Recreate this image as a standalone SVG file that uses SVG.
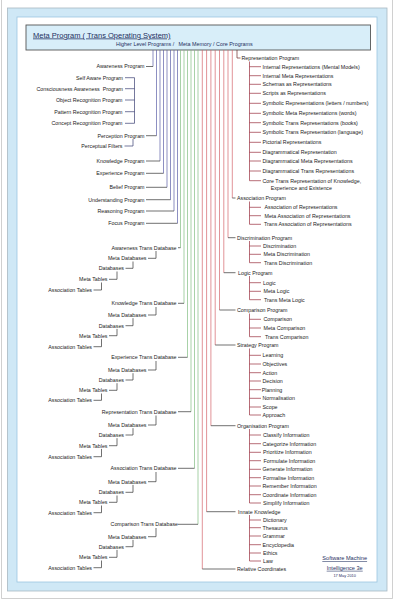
<svg xmlns="http://www.w3.org/2000/svg" width="394" height="600" viewBox="0 0 394 600">
<style>
text{font-family:"Liberation Sans",Arial,sans-serif;font-size:5.3px;fill:#222}
.e{text-anchor:end}
.hd{fill:#1f2f5f;text-decoration:underline}
path{fill:none;stroke-width:0.7}
.b{stroke:#5b5fa8}
.g{stroke:#82bd82}
.r{stroke:#d4646c}
.k{stroke:#333}
.kb{stroke:#3b3f73}
.kr{stroke:#9a2e3e}
</style>
<rect x="0" y="0" width="394" height="600" fill="#fff"/>
<path d="M1.5 0 V598.5 H392.5 V0" stroke="#bbb" stroke-width="0.8"/>
<rect x="7.5" y="8" width="379.5" height="583" fill="#cfe8f6" stroke="#a9b8c2" stroke-width="0.8"/>
<rect x="17" y="17" width="360" height="565" fill="#fff" stroke="#9cc6e0" stroke-width="0.8"/>
<g id="header">
<rect x="26" y="25" width="344.5" height="25" fill="#d8eef9" stroke="#555" stroke-width="0.9"/>
<text x="33" y="37.5" class="hd" style="font-size:7.5px">Meta Program ( Trans Operating System)</text>
<text x="116" y="45.6" style="font-size:5.4px;fill:#1f2f5f" xml:space="preserve">Higher Level Programs /   Meta Memory / Core Programs</text>
</g>
<g id="connectors">
<!-- blue buses -->
<path class="b" d="M153 50 V66.5"/><path class="k" d="M146 66.5 H153"/>
<path class="b" d="M156.5 50 V135.7"/><path class="k" d="M146 135.7 H156.5"/>
<path class="b" d="M160 50 V161"/><path class="k" d="M146 161 H160"/>
<path class="b" d="M163.5 50 V173.3"/><path class="k" d="M146 173.3 H163.5"/>
<path class="b" d="M167 50 V187.3"/><path class="k" d="M146 187.3 H167"/>
<path class="b" d="M170.5 50 V199.7"/><path class="k" d="M146 199.7 H170.5"/>
<path class="b" d="M174 50 V211"/><path class="k" d="M146 211 H174"/>
<path class="b" d="M177.5 50 V223.3"/><path class="k" d="M146 223.3 H177.5"/>
<!-- awareness sub bracket -->
<path class="kb" d="M134.5 77.7 V123.3 M125 77.7 H134.5 M125 88.7 H134.5 M125 100 H134.5 M125 111.7 H134.5 M125 123.3 H134.5"/>
<path class="kb" d="M124.5 146 H133 V139"/>
<!-- green buses -->
<path class="g" d="M180.5 50 V247.7"/><path class="k" d="M178 247.7 H180.5"/>
<path class="g" d="M184 50 V303.3"/><path class="k" d="M178 303.3 H184"/>
<path class="g" d="M187.5 50 V357.3"/><path class="k" d="M178 357.3 H187.5"/>
<path class="g" d="M191 50 V411.7"/><path class="k" d="M178 411.7 H191"/>
<path class="g" d="M194.5 50 V468.3"/><path class="k" d="M178 468.3 H194.5"/>
<path class="g" d="M198 50 V524.3"/><path class="k" d="M178 524.3 H198"/>
<!-- database staircases -->
<path class="k" d="M148 258.3 H156 V251 M125.5 268.3 H133 V261.5 M109 279.3 H117 V271.5 M93.5 290 H101.5 V282.5"/>
<path class="k" d="M148 315 H156 V307 M125.5 325.7 H133 V318.2 M109 335.7 H117 V328.9 M93.5 346.7 H101.5 V338.9"/>
<path class="k" d="M148 370 H156 V361 M125.5 380 H133 V373.2 M109 390.3 H117 V383.2 M93.5 400.3 H101.5 V393.5"/>
<path class="k" d="M148 425 H156 V415.5 M125.5 435 H133 V428.2 M109 445.7 H117 V438.2 M93.5 456.7 H101.5 V448.9"/>
<path class="k" d="M148 481.7 H156 V472 M125.5 492.3 H133 V484.9 M109 502.3 H117 V495.5 M93.5 512.7 H101.5 V505.5"/>
<path class="k" d="M148 536.7 H156 V528 M125.5 546.7 H133 V539.9 M109 557.3 H117 V549.9 M93.5 567.7 H101.5 V560.5"/>
<!-- red buses -->
<path class="r" d="M202.3 50 V569"/><path class="k" d="M202.3 569 H235.5"/>
<path class="r" d="M206.6 50 V511.7"/><path class="k" d="M206.6 511.7 H235.5"/>
<path class="r" d="M210.9 50 V425.7"/><path class="k" d="M210.9 425.7 H235.5"/>
<path class="r" d="M215.2 50 V345"/><path class="k" d="M215.2 345 H235.5"/>
<path class="r" d="M219.5 50 V310"/><path class="k" d="M219.5 310 H235.5"/>
<path class="r" d="M223.8 50 V272.7"/><path class="k" d="M223.8 272.7 H235.5"/>
<path class="r" d="M228 50 V237.7"/><path class="k" d="M228 237.7 H235.5"/>
<path class="r" d="M232.3 50 V198"/><path class="k" d="M232.3 198 H235.5"/>
<path stroke="#6e2a2a" d="M237 50 V58 H240.5"/>
<!-- right sub brackets -->
<path class="kr" d="M249.5 61.5 V180.7 M249.5 66.7 H261 M249.5 75.7 H261 M249.5 84.3 H261 M249.5 93.3 H261 M249.5 103.3 H261 M249.5 113.3 H261 M249.5 122.7 H261 M249.5 132.3 H261 M249.5 142.3 H261 M249.5 152.3 H261 M249.5 161 H261 M249.5 171 H261 M249.5 180.7 H261"/>
<path class="kr" d="M249.5 201.5 V224.3 M249.5 207.3 H261 M249.5 215.7 H261 M249.5 224.3 H261"/>
<path class="kr" d="M249.5 241 V262.7 M249.5 246 H261 M249.5 254.3 H261 M249.5 262.7 H261"/>
<path class="kr" d="M249.5 276 V299.7 M249.5 282.7 H261 M249.5 291.3 H261 M249.5 299.7 H261"/>
<path class="kr" d="M249.5 313.5 V336.7 M249.5 319.3 H261 M249.5 328 H261 M249.5 336.7 H261"/>
<path class="kr" d="M249.5 348.5 V415 M249.5 355.3 H261 M249.5 364 H261 M249.5 372.7 H261 M249.5 381 H261 M249.5 389.7 H261 M249.5 398.3 H261 M249.5 407 H261 M249.5 415 H261"/>
<path class="kr" d="M249.5 429 V503 M249.5 435 H261 M249.5 443.7 H261 M249.5 452.3 H261 M249.5 460.7 H261 M249.5 469.3 H261 M249.5 477.7 H261 M249.5 486 H261 M249.5 494.7 H261 M249.5 503 H261"/>
<path class="kr" d="M249.5 515 V561 M249.5 520 H261 M249.5 527.7 H261 M249.5 536 H261 M249.5 544.7 H261 M249.5 553 H261 M249.5 561 H261"/>
</g>
<g id="left-programs">
<g id="awareness"><text class="e" x="144.5" y="68.3">Awareness Program</text></g>
<g id="self-aware"><text class="e" x="123" y="79.5">Self Aware Program</text></g>
<g id="consciousness"><text class="e" x="123" y="90.5" xml:space="preserve">Consciousness Awareness  Program</text></g>
<g id="object-recognition"><text class="e" x="122.5" y="101.8">Object Recognition Program</text></g>
<g id="pattern-recognition"><text class="e" x="122.5" y="113.5">Pattern Recognition Program</text></g>
<g id="concept-recognition"><text class="e" x="122.5" y="125.1">Concept Recognition Program</text></g>
<g id="perception"><text class="e" x="144.5" y="137.5">Perception Program</text></g>
<g id="perceptual-filters"><text class="e" x="122.5" y="147.8">Perceptual Filters</text></g>
<g id="knowledge"><text class="e" x="144.5" y="162.8">Knowledge Program</text></g>
<g id="experience"><text class="e" x="144.5" y="175.1">Experience Program</text></g>
<g id="belief"><text class="e" x="144.5" y="189.1">Belief Program</text></g>
<g id="understanding"><text class="e" x="144.5" y="201.5">Understanding Program</text></g>
<g id="reasoning"><text class="e" x="144.5" y="212.8">Reasoning Program</text></g>
<g id="focus"><text class="e" x="144.5" y="225.1">Focus Program</text></g>
</g>
<g id="databases">
<g id="db1"><text class="e" x="176.5" y="249.5">Awareness Trans Database</text><text class="e" x="146.5" y="260.1">Meta Databases</text><text class="e" x="124" y="270.1">Databases</text><text class="e" x="107.5" y="281.1">Meta Tables</text><text class="e" x="92" y="291.8">Association Tables</text></g>
<g id="db2"><text class="e" x="176.5" y="305.1">Knowledge Trans Database</text><text class="e" x="146.5" y="316.8">Meta Databases</text><text class="e" x="124" y="327.5">Databases</text><text class="e" x="107.5" y="337.5">Meta Tables</text><text class="e" x="92" y="348.5">Association Tables</text></g>
<g id="db3"><text class="e" x="176.5" y="359.1">Experience Trans Database</text><text class="e" x="146.5" y="371.8">Meta Databases</text><text class="e" x="124" y="381.8">Databases</text><text class="e" x="107.5" y="392.1">Meta Tables</text><text class="e" x="92" y="402.1">Association Tables</text></g>
<g id="db4"><text class="e" x="176.5" y="413.5">Representation Trans Database</text><text class="e" x="146.5" y="426.8">Meta Databases</text><text class="e" x="124" y="436.8">Databases</text><text class="e" x="107.5" y="447.5">Meta Tables</text><text class="e" x="92" y="458.5">Association Tables</text></g>
<g id="db5"><text class="e" x="176.5" y="470.1">Association Trans Database</text><text class="e" x="146.5" y="483.5">Meta Databases</text><text class="e" x="124" y="494.1">Databases</text><text class="e" x="107.5" y="504.1">Meta Tables</text><text class="e" x="92" y="514.5">Association Tables</text></g>
<g id="db6"><text class="e" x="178" y="526.1">Comparison Trans Database</text><text class="e" x="146.5" y="538.5">Meta Databases</text><text class="e" x="124" y="548.5">Databases</text><text class="e" x="107.5" y="559.1">Meta Tables</text><text class="e" x="92" y="569.5">Association Tables</text></g>
</g>
<g id="right-programs">
<g id="representation"><text x="241.5" y="59.8">Representation Program</text>
<text x="262.5" y="68.5">Internal Representations (Mental Models)</text>
<text x="262.5" y="77.5">Internal Meta Representations</text>
<text x="262.5" y="86.1">Schemas as Representations</text>
<text x="262.5" y="95.1">Scripts as Representations</text>
<text x="262.5" y="105.1">Symbolic Representations (letters / numbers)</text>
<text x="262.5" y="115.1">Symbolic Meta Representations (words)</text>
<text x="262.5" y="124.5">Symbolic Trans Representations (books)</text>
<text x="262.5" y="134.1">Symbolic Trans Representation (language)</text>
<text x="262.5" y="144.1">Pictorial Representations</text>
<text x="262.5" y="154.1">Diagrammatical Representation</text>
<text x="262.5" y="162.8">Diagrammatical Meta Representations</text>
<text x="262.5" y="172.8">Diagrammatical Trans Representations</text>
<text x="262.5" y="182.5">Core Trans Representation of Knowledge,</text>
<text x="270.7" y="190.1">Experience and Existence</text></g>
<g id="association"><text x="237" y="199.8">Association Program</text>
<text x="264.5" y="209.1">Association of Representations</text>
<text x="264.5" y="217.5">Meta Association of Representations</text>
<text x="264" y="226.1">Trans Association of Representations</text></g>
<g id="discrimination"><text x="237" y="239.5">Discrimination Program</text>
<text x="263" y="247.8">Discrimination</text>
<text x="263.5" y="256.1">Meta Discrimination</text>
<text x="264" y="264.5">Trans Discrimination</text></g>
<g id="logic"><text x="238" y="274.5">Logic Program</text>
<text x="263" y="284.5">Logic</text>
<text x="263.5" y="293.1">Meta Logic</text>
<text x="264" y="301.5">Trans Meta Logic</text></g>
<g id="comparison"><text x="237" y="311.8">Comparison Program</text>
<text x="263.5" y="321.1">Comparison</text>
<text x="263.5" y="329.8">Meta Comparison</text>
<text x="265" y="338.5">Trans Comparison</text></g>
<g id="strategy"><text x="237" y="346.8">Strategy Program</text>
<text x="262.5" y="357.1">Learning</text>
<text x="262.5" y="365.8">Objectives</text>
<text x="262.5" y="374.5">Action</text>
<text x="262.5" y="382.8">Decision</text>
<text x="261.7" y="391.5">Planning</text>
<text x="262.5" y="400.1">Normalisation</text>
<text x="262.5" y="408.8">Scope</text>
<text x="262.5" y="416.8">Approach</text></g>
<g id="organisation"><text x="237" y="427.5">Organisation Program</text>
<text x="263" y="436.8">Classify Information</text>
<text x="262.5" y="445.5">Categorize Information</text>
<text x="263" y="454.1">Prioritize Information</text>
<text x="263.5" y="462.5">Formulate Information</text>
<text x="262.5" y="471.1">Generate Information</text>
<text x="263" y="479.5">Formalise Information</text>
<text x="262.5" y="487.8">Remember Information</text>
<text x="262.5" y="496.5">Coordinate Information</text>
<text x="263" y="504.8">Simplify Information</text></g>
<g id="innate"><text x="238" y="513.5">Innate Knowledge</text>
<text x="263" y="521.8">Dictionary</text>
<text x="262.5" y="529.5">Thesaurus</text>
<text x="262.5" y="537.8">Grammar</text>
<text x="262.5" y="546.5">Encyclopedia</text>
<text x="263" y="554.8">Ethics</text>
<text x="263" y="562.8">Law</text></g>
<g id="relative"><text x="237" y="570.8">Relative Coordinates</text></g>
</g>
<g id="credits">
<text x="344.7" y="560.3" class="hd" style="font-size:5.6px;text-anchor:middle">Software Machine</text>
<text x="344.7" y="569.8" class="hd" style="font-size:5.6px;text-anchor:middle">Intelligence 3e</text>
<text x="344.7" y="577.2" style="font-size:3.9px;text-anchor:middle;fill:#1f2f5f">17 May 2010</text>
</g>
</svg>
